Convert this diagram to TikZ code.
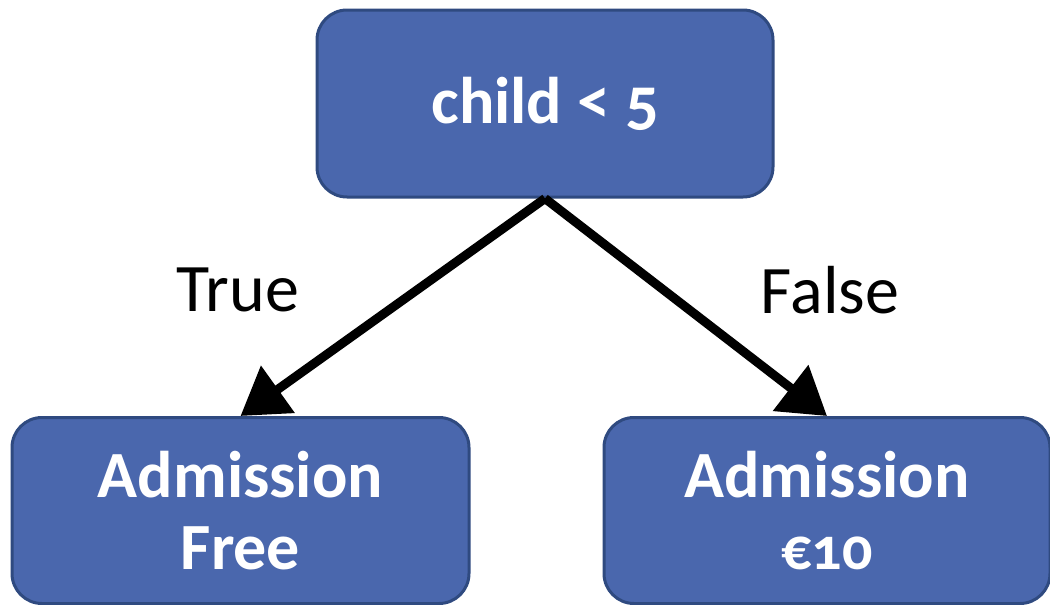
\documentclass[tikz,border=0pt]{standalone}
\usepackage{fontspec}
\setmainfont{Carlito}[Numbers=OldStyle]
\usetikzlibrary{arrows.meta}
\definecolor{boxblue}{HTML}{4A67AD}
\definecolor{boxedge}{HTML}{2F4A80}
\begin{document}
\begin{tikzpicture}[x=1pt,y=-1pt,
		box_style/.style={rectangle,rounded corners=30pt,draw=boxedge,line width=3pt,fill=boxblue,text=white,align=center,font=\fontsize{66}{78}\selectfont\bfseries,inner sep=0pt},
		label_style/.style={font=\fontsize{68}{80}\selectfont},
		edge_style/.style={draw=black,line width=9pt,-{Triangle[length=46pt,width=56pt]}}]
		
		\useasboundingbox (0,0) rectangle (1050,605);
		
		\node[box_style,minimum width=456pt,minimum height=187pt] (root) at (545,103.5) {child < 5};
		\node[box_style,minimum width=457pt,minimum height=186pt] (free) at (240.5,510.5) {Admission\\[-6pt]Free};
		\node[box_style,minimum width=446pt,minimum height=186pt] (paid) at (827,510.5) {Admission\\[-6pt]{\fontsize{60}{70}\selectfont €10}};
		
		\node[label_style] (yes) at (238,290) {True};
		\node[label_style] (no) at (830,290) {False};
		
		\draw[edge_style] (root.south) -- (free.north);
		\draw[edge_style] (root.south) -- (paid.north);

		\end{tikzpicture}
\end{document}
